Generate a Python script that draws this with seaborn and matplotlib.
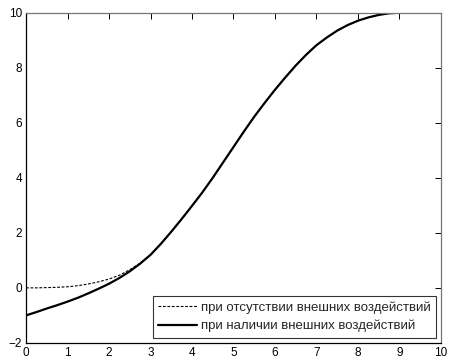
import matplotlib
matplotlib.use("Agg")
import matplotlib.pyplot as plt
import seaborn as sns
import pandas as pd

# Trajectory without external disturbance
x_free = [0, 0.25, 0.5, 0.75, 1.0, 1.25, 1.5, 1.75, 2.0, 2.25, 2.5, 2.75, 3.0, 3.25,
          3.5, 3.75, 4.0, 4.25, 4.5, 4.75, 5.0, 5.25, 5.5, 5.75, 6.0, 6.25, 6.5,
          6.75, 7.0, 7.25, 7.5, 7.75, 8.0, 8.25, 8.5, 8.75, 9.0]
y_free = [0.0, 0.0, 0.01, 0.02, 0.04, 0.08, 0.14, 0.22, 0.32, 0.46, 0.66, 0.9, 1.2, 1.6,
          2.04, 2.5, 2.98, 3.47, 4.0, 4.56, 5.12, 5.68, 6.22, 6.72, 7.2, 7.65, 8.08,
          8.47, 8.82, 9.1, 9.35, 9.55, 9.71, 9.83, 9.92, 9.98, 10.0]

# Trajectory with external disturbance
x_dist = [0, 0.25, 0.5, 0.75, 1.0, 1.25, 1.5, 1.75, 2.0, 2.25, 2.5, 2.75, 3.0, 3.25,
          3.5, 3.75, 4.0, 4.25, 4.5, 4.75, 5.0, 5.25, 5.5, 5.75, 6.0, 6.25, 6.5,
          6.75, 7.0, 7.25, 7.5, 7.75, 8.0, 8.25, 8.5, 8.75, 9.0]
y_dist = [-1.0, -0.88, -0.75, -0.63, -0.5, -0.36, -0.2, -0.03, 0.15, 0.36, 0.6, 0.88, 1.2, 1.6,
          2.04, 2.5, 2.98, 3.47, 4.0, 4.56, 5.12, 5.68, 6.22, 6.72, 7.2, 7.65, 8.08,
          8.47, 8.82, 9.1, 9.35, 9.55, 9.71, 9.83, 9.92, 9.98, 10.0]

labels = ["при отсутствии внешних воздействий", "при наличии внешних воздействий"]
x_ticks = list(range(0, 11))
y_ticks = [-2, 0, 2, 4, 6, 8, 10]

df = pd.concat([
    pd.DataFrame({"t": x_free, "v": y_free, "case": labels[0]}),
    pd.DataFrame({"t": x_dist, "v": y_dist, "case": labels[1]}),
])

sns.set_style("white")
plt.rcParams["font.family"] = ["Liberation Sans", "DejaVu Sans"]

fig = plt.figure(figsize=(4.49, 3.64), dpi=100)
ax = fig.add_axes([0.058, 0.058, 0.924, 0.907])

sns.lineplot(data=df[df["case"] == labels[0]], x="t", y="v", ax=ax,
             color="black", linewidth=0.8, linestyle=(0, (2.5, 1.5)),
             label=labels[0], sort=False)
sns.lineplot(data=df[df["case"] == labels[1]], x="t", y="v", ax=ax,
             color="black", linewidth=1.6, label=labels[1], sort=False)

ax.set_xlim(0, 10)
ax.set_ylim(-2, 10)
ax.set_xticks(x_ticks)
ax.set_yticks(y_ticks)
ax.set_xlabel("")
ax.set_ylabel("")
ax.tick_params(direction="in", length=4, width=0.7, labelsize=8.5,
               top=True, right=True, pad=3, colors="black")
for side in ["left", "bottom"]:
    ax.spines[side].set_color("black")
    ax.spines[side].set_linewidth(0.9)
for side in ["top", "right"]:
    ax.spines[side].set_color("#777777")
    ax.spines[side].set_linewidth(0.9)

leg = ax.legend(loc="lower right", fontsize=9.5, frameon=True, fancybox=False,
                edgecolor="black", handlelength=2.9, handletextpad=0.3,
                borderpad=0.4, labelspacing=0.45, borderaxespad=0.4)
leg.get_frame().set_linewidth(0.8)

fig.savefig("out.png", dpi=100)
